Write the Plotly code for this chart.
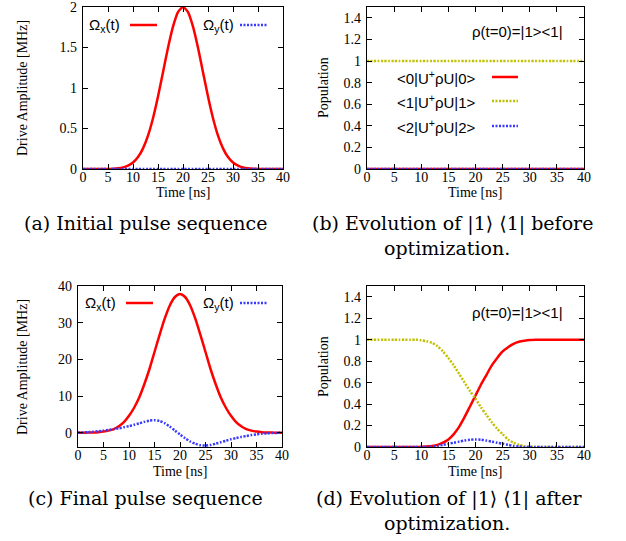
import plotly.graph_objects as go

W, H = 626, 541

# ---------------- data ----------------
t = list(range(0, 41))

# (a) initial pulse
omega_x_init = [0, 0, 0, 0, 0, 0.001, 0.004, 0.009, 0.019, 0.041, 0.080, 0.147, 0.255, 0.413,
                0.627, 0.894, 1.195, 1.497, 1.758, 1.937, 2.0, 1.937, 1.758, 1.497, 1.195,
                0.894, 0.627, 0.413, 0.255, 0.147, 0.080, 0.041, 0.019, 0.009, 0.004, 0.001,
                0, 0, 0, 0, 0]
omega_y_init = [0] * 41

# (b) populations before optimization
pop0_before = [0] * 41
pop1_before = [1] * 41
pop2_before = [0] * 41

# (c) final pulse
omega_x_final = [0, 0.01, 0.03, 0.07, 0.15, 0.30, 0.56, 1.0, 1.75, 2.9, 4.6, 6.8, 9.6, 13.2,
                 17.3, 22.0, 26.7, 31.1, 34.7, 37.0, 37.8, 37.0, 34.7, 31.1, 26.7, 22.0, 17.3,
                 13.2, 9.6, 6.8, 4.6, 2.9, 1.75, 1.0, 0.56, 0.30, 0.15, 0.07, 0.03, 0.01, 0]
omega_y_final = [0, 0.05, 0.15, 0.25, 0.4, 0.55, 0.75, 0.95, 1.2, 1.5, 1.8, 2.15, 2.55, 2.95,
                 3.3, 3.4, 3.2, 2.6, 1.7, 0.6, -0.5, -1.5, -2.4, -3.0, -3.4, -3.5, -3.35,
                 -3.0, -2.6, -2.2, -1.8, -1.45, -1.15, -0.9, -0.65, -0.45, -0.3, -0.2, -0.1,
                 -0.05, 0]

# (d) populations after optimization
pop0_after = [0] * 11 + [0.005, 0.01, 0.02, 0.04, 0.07, 0.12, 0.19, 0.28, 0.38, 0.48, 0.58,
                         0.67, 0.76, 0.83, 0.89, 0.93, 0.96, 0.98, 0.99, 0.997] + [1.0] * 10
pop1_after = [1.0] * 10 + [0.995, 0.985, 0.97, 0.94, 0.89, 0.83, 0.76, 0.68, 0.60, 0.52, 0.45,
                           0.37, 0.30, 0.23, 0.17, 0.12, 0.07, 0.04, 0.02, 0.008, 0.003] + [0.0] * 10
pop2_after = [0] * 12 + [0.005, 0.01, 0.02, 0.03, 0.04, 0.05, 0.06, 0.068, 0.07, 0.068, 0.06,
                         0.05, 0.04, 0.03, 0.02, 0.01, 0.005] + [0] * 12

x_ticks = [0, 5, 10, 15, 20, 25, 30, 35, 40]
amp_ticks_a = [0, 0.5, 1, 1.5, 2]
amp_ticks_c = [0, 10, 20, 30, 40]
pop_ticks = [0, 0.2, 0.4, 0.6, 0.8, 1, 1.2, 1.4]

captions = {
    "a": "(a) Initial pulse sequence",
    "b1": "(b) Evolution of |1⟩ ⟨1| before",
    "b2": "optimization.",
    "c": "(c) Final pulse sequence",
    "d1": "(d) Evolution of |1⟩ ⟨1| after",
    "d2": "optimization.",
}
state_label = "ρ(t=0)=|1><1|"
pop_labels = ["<0|U<sup>+</sup>ρU|0>", "<1|U<sup>+</sup>ρU|1>", "<2|U<sup>+</sup>ρU|2>"]
omega_labels = ["Ω<sub>x</sub>(t)", "Ω<sub>y</sub>(t)"]

# ---------------- styles ----------------
RED = "#ff0000"
YEL = "#c0c000"
BLU = "#3a3aff"
DOT = "2px,1.5px"
SERIF = "Liberation Serif"
SANS = "Liberation Sans"
CAP = "DejaVu Serif"

def px(x):
    return x / W

def py(y):
    return 1 - y / H

# panel boxes in pixels: (left, right, top, bottom)
boxes = {
    "a": (83, 283, 7, 169),
    "b": (367, 584, 7, 169),
    "c": (78, 282, 286, 447),
    "d": (367, 584, 286, 447),
}

fig = go.Figure()

def add(xa, ya, y, color, dash):
    fig.add_trace(go.Scatter(x=t, y=y, xaxis=xa, yaxis=ya, mode="lines",
                             line=dict(color=color, width=2.5, dash=dash, shape="spline",
                                       smoothing=0.6),
                             showlegend=False, hoverinfo="skip"))

add("x", "y", omega_x_init, RED, "solid")
add("x", "y", omega_y_init, BLU, DOT)
add("x2", "y2", pop0_before, RED, "solid")
add("x2", "y2", pop1_before, YEL, DOT)
add("x2", "y2", pop2_before, BLU, DOT)
add("x3", "y3", omega_x_final, RED, "solid")
add("x3", "y3", omega_y_final, BLU, DOT)
add("x4", "y4", pop0_after, RED, "solid")
add("x4", "y4", pop1_after, YEL, DOT)
add("x4", "y4", pop2_after, BLU, DOT)

def axis_common(dom, anchor):
    return dict(domain=dom, anchor=anchor, showline=True, linecolor="black", linewidth=1.3,
                mirror="allticks", ticks="inside", ticklen=5, tickwidth=1, tickcolor="black",
                showgrid=False, zeroline=False, ticklabeloverflow="allow",
                tickfont=dict(family=SERIF, size=14, color="black"))

layout_axes = {}
names = ["a", "b", "c", "d"]
yranges = {"a": [0, 2], "b": [0, 1.5], "c": [-3.9, 40], "d": [0, 1.5]}
yticks = {"a": amp_ticks_a, "b": pop_ticks, "c": amp_ticks_c, "d": pop_ticks}
for i, n in enumerate(names):
    l, r, tp, b = boxes[n]
    sfx = "" if i == 0 else str(i + 1)
    xa = axis_common([px(l), px(r)], "y" + sfx)
    xa.update(range=[0, 40], tickvals=x_ticks, ticklabelstandoff=-5)
    ya = axis_common([py(b), py(tp)], "x" + sfx)
    ya.update(range=yranges[n], tickvals=yticks[n], ticklabelstandoff=2)
    layout_axes["xaxis" + sfx] = xa
    layout_axes["yaxis" + sfx] = ya

fig.update_layout(width=W, height=H,
                  margin=dict(l=0, r=0, t=0, b=0, pad=0, autoexpand=False),
                  paper_bgcolor="white", plot_bgcolor="white", **layout_axes)

ann = []
def text(x, y, s, size, family, xanchor="center", angle=0):
    ann.append(dict(x=px(x), y=py(y), xref="paper", yref="paper", text=s, showarrow=False,
                    xanchor=xanchor, yanchor="middle", textangle=angle,
                    font=dict(family=family, size=size, color="black")))

# axis titles
text(22, 88, "Drive Amplitude [MHz]", 14, SERIF, angle=-90)
text(323, 88, "Population", 14, SERIF, angle=-90)
text(22, 367, "Drive Amplitude [MHz]", 14, SERIF, angle=-90)
text(323, 367, "Population", 14, SERIF, angle=-90)
text(183, 192, "Time [ns]", 14, SERIF)
text(475, 192, "Time [ns]", 14, SERIF)
text(180, 471, "Time [ns]", 14, SERIF)
text(475, 471, "Time [ns]", 14, SERIF)

shapes = []
def sample(x0, x1, y, color, dash):
    shapes.append(dict(type="line", xref="paper", yref="paper", x0=px(x0), x1=px(x1),
                       y0=py(y), y1=py(y), line=dict(color=color, width=2.5, dash=dash)))

# legends of pulse panels
for ytop in (25, 303):
    xoff = 0 if ytop == 25 else -4
    text(122 + xoff, ytop, omega_labels[0], 15, SANS, xanchor="right")
    sample(130 + xoff, 157 + xoff, ytop, RED, "solid")
    text(236, ytop, omega_labels[1], 15, SANS, xanchor="right")
    sample(240, 267, ytop, BLU, DOT)

# legend of population panel (b)
for lab, yy, col, dsh in zip(pop_labels, (77, 101, 126), (RED, YEL, BLU), ("solid", DOT, DOT)):
    text(478, yy, lab, 15, SANS, xanchor="right")
    sample(492, 518, yy, col, dsh)

text(517, 32, state_label, 15, SANS)
text(517, 312, state_label, 15, SANS)

# captions
text(145, 223, captions["a"], 19, CAP)
text(452, 223, captions["b1"], 19, CAP)
text(447, 248, captions["b2"], 19, CAP)
text(145, 498, captions["c"], 19, CAP)
text(449, 498, captions["d1"], 19, CAP)
text(447, 523, captions["d2"], 19, CAP)

fig.update_layout(annotations=ann, shapes=shapes)
fig.write_html("out.html", config={"displayModeBar": False},
               post_script="document.body.style.margin='0';document.body.style.overflow='hidden';")
